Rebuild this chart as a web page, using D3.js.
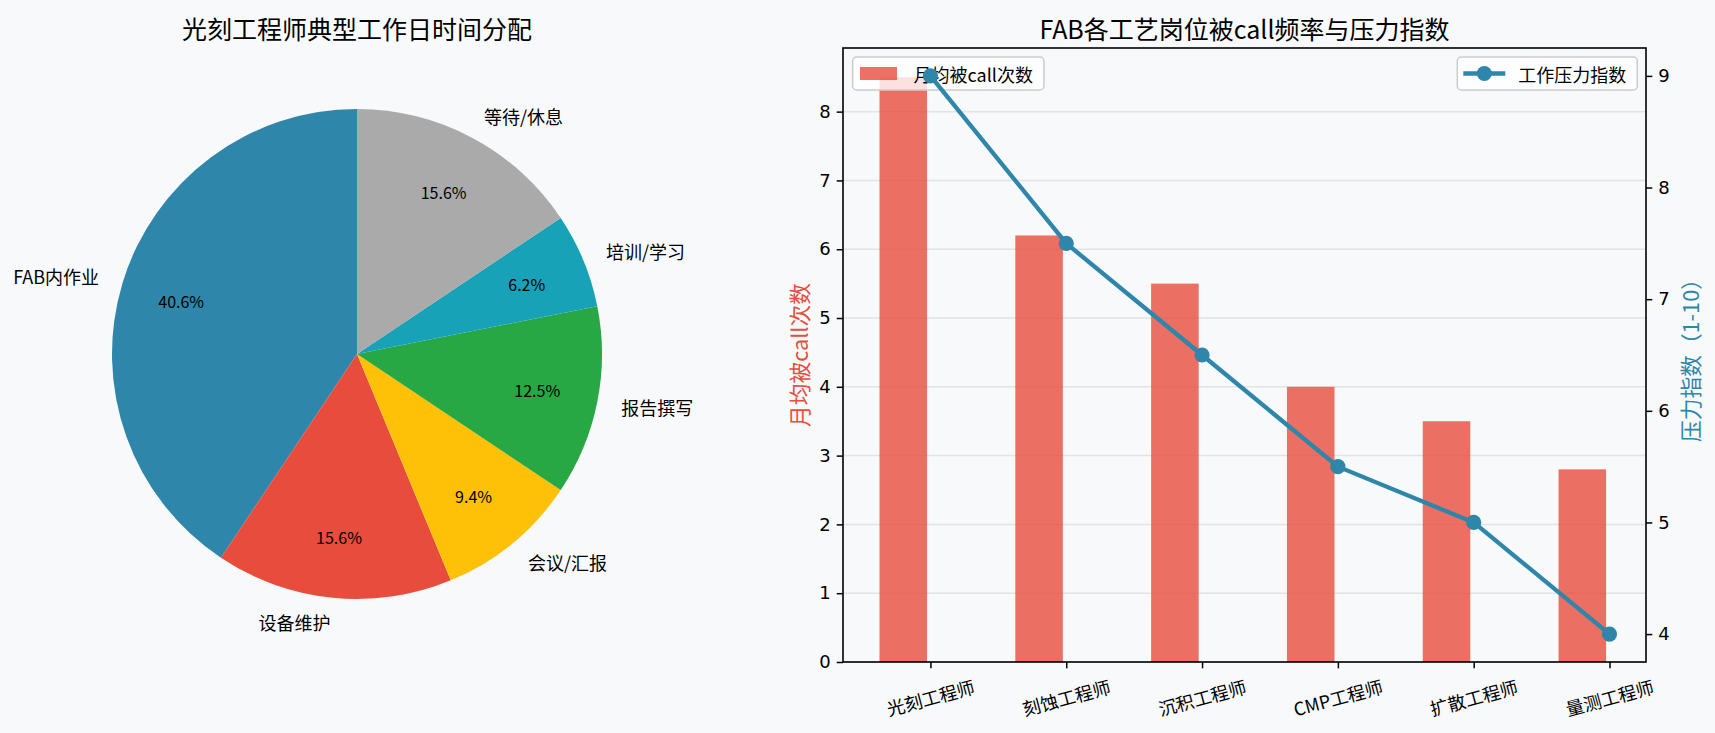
<!DOCTYPE html>
<html>
<head>
<meta charset="utf-8">
<script src="https://cdn.jsdelivr.net/npm/d3@7"></script>
<style>
  body { margin: 0; background: #F8F9FA; }
  svg { display: block; }
  text { font-family: "Noto Sans CJK SC", "DejaVu Sans", sans-serif; fill: #000; }
</style>
</head>
<body>
<svg id="chart" width="1715" height="733"></svg>
<script>
// pie: time split of a typical day
const tasks = ["FAB内作业", "设备维护", "会议/汇报", "报告撰写", "培训/学习", "等待/休息"];
const hours = [6.5, 2.5, 1.5, 2.0, 1.0, 2.5];
const pieColors = ["#2E86AB", "#E74C3C", "#FFC107", "#28A745", "#17A2B8", "#AAAAAA"];

// bars + line: call frequency and stress by role
const roles = ["光刻工程师", "刻蚀工程师", "沉积工程师", "CMP工程师", "扩散工程师", "量测工程师"];
const callsPerMonth = [8.5, 6.2, 5.5, 4.0, 3.5, 2.8];
const stressIndex = [9, 7.5, 6.5, 5.5, 5.0, 4.0];
const leftTicks = [0, 1, 2, 3, 4, 5, 6, 7, 8];
const rightTicks = [4, 5, 6, 7, 8, 9];

const svg = d3.select("#chart");

// python-style rounding (half to even) so 6.25 -> 6.2
function pct1(v) {
  const s = v * 10, f = Math.floor(s);
  let n = Math.abs(s - f - 0.5) < 1e-9 ? (f % 2 === 0 ? f : f + 1) : Math.round(s);
  return (n / 10).toFixed(1) + "%";
}

/* ---------- pie ---------- */
const cx = 357, cy = 354, R = 245;
svg.append("text").attr("x", cx).attr("y", 28).attr("text-anchor", "middle")
  .attr("dominant-baseline", "central").style("font-size", "25px").text("光刻工程师典型工作日时间分配");

const total = d3.sum(hours);
const pie = d3.pie().sort(null).startAngle(0).endAngle(-2 * Math.PI);
const arcs = pie(hours);
const arc = d3.arc().innerRadius(0).outerRadius(R);
const gp = svg.append("g").attr("transform", `translate(${cx},${cy})`);
gp.selectAll("path").data(arcs).enter().append("path")
  .attr("d", arc).attr("fill", (d, i) => pieColors[i]);

arcs.forEach((d, i) => {
  const a = (d.startAngle + d.endAngle) / 2;
  const lx = Math.sin(a) * R * 1.1, ly = -Math.cos(a) * R * 1.1;
  gp.append("text").attr("x", lx).attr("y", ly)
    .attr("text-anchor", lx < 0 ? "end" : "start").attr("dominant-baseline", "central")
    .style("font-size", "18px").text(tasks[i]);
  gp.append("text").attr("x", Math.sin(a) * R * 0.75).attr("y", -Math.cos(a) * R * 0.75)
    .attr("text-anchor", "middle").attr("dominant-baseline", "central")
    .style("font-size", "16px").text(pct1(hours[i] / total * 100));
});

/* ---------- bars + line ---------- */
const L = 843, Rt = 1646, T = 48, B = 662;
const barW = 0.35, barShift = 0.2;
const x = d3.scaleLinear().domain([-0.64375, 5.26875]).range([L, Rt]);
const yL = d3.scaleLinear().domain([0, d3.max(callsPerMonth) * 1.05]).range([B, T]);
const yR = d3.scaleLinear().domain([3.75, 9.25]).range([B, T]);
const idx = roles.map((r, i) => i);

svg.append("text").attr("x", (L + Rt) / 2).attr("y", 28).attr("text-anchor", "middle")
  .attr("dominant-baseline", "central").style("font-size", "25px").text("FAB各工艺岗位被call频率与压力指数");

// grid
svg.append("g").selectAll("line").data(leftTicks).enter().append("line")
  .attr("x1", L).attr("x2", Rt).attr("y1", d => yL(d)).attr("y2", d => yL(d))
  .attr("stroke", "#b0b0b0").attr("stroke-opacity", 0.3).attr("stroke-width", 1.5);

// bars
svg.append("g").selectAll("rect").data(callsPerMonth).enter().append("rect")
  .attr("x", (d, i) => x(i - barShift - barW / 2))
  .attr("width", x(barW) - x(0))
  .attr("y", d => yL(d)).attr("height", d => B - yL(d))
  .attr("fill", "#E74C3C").attr("fill-opacity", 0.8);

// left axis
const axL = svg.append("g").attr("transform", `translate(${L},0)`)
  .call(d3.axisLeft(yL).tickValues(leftTicks).tickFormat(d3.format("d")).tickSize(6.3).tickPadding(6));
axL.select(".domain").remove();
axL.selectAll("line").attr("stroke", "#000").attr("stroke-width", 1.5);
axL.selectAll("text").style("font-size", "18px").style("font-family", "DejaVu Sans");

// x axis
const axX = svg.append("g").attr("transform", `translate(0,${B})`)
  .call(d3.axisBottom(x).tickValues(idx).tickSize(6.3).tickFormat(""));
axX.select(".domain").remove();
axX.selectAll("line").attr("stroke", "#000").attr("stroke-width", 1.5);
svg.append("g").selectAll("text").data(roles).enter().append("text")
  .attr("transform", (d, i) => `translate(${x(i)},697) rotate(-15)`)
  .attr("text-anchor", "middle").attr("dominant-baseline", "central")
  .style("font-size", "18px").text(d => d);

svg.append("text").attr("transform", `translate(798,${(T + B) / 2}) rotate(-90)`)
  .attr("text-anchor", "middle").attr("dominant-baseline", "central")
  .style("font-size", "21.7px").style("fill", "#E74C3C").text("月均被call次数");

// left legend
const lg1 = svg.append("g");
const lbox1 = lg1.append("rect").attr("x", 852.6).attr("y", 57).attr("height", 33)
  .attr("rx", 4).attr("fill", "#fff").attr("fill-opacity", 0.8).attr("stroke", "#cccccc").attr("stroke-width", 1.5);
lg1.append("rect").attr("x", 860).attr("y", 67).attr("width", 37).attr("height", 13)
  .attr("fill", "#E74C3C").attr("fill-opacity", 0.8);
const t1 = lg1.append("text").attr("x", 913.6).attr("y", 73.5).attr("dominant-baseline", "central")
  .style("font-size", "18px").text("月均被call次数");
lbox1.attr("width", 913.6 + t1.node().getComputedTextLength() + 11 - 852.6);

// line on right axis
const line = d3.line().x((d, i) => x(i)).y(d => yR(d));
svg.append("path").datum(stressIndex).attr("d", line)
  .attr("fill", "none").attr("stroke", "#2E86AB").attr("stroke-width", 4.3).attr("stroke-linejoin", "round");
svg.append("g").selectAll("circle").data(stressIndex).enter().append("circle")
  .attr("cx", (d, i) => x(i)).attr("cy", d => yR(d)).attr("r", 7.6).attr("fill", "#2E86AB");

// right axis
const axR = svg.append("g").attr("transform", `translate(${Rt},0)`)
  .call(d3.axisRight(yR).tickValues(rightTicks).tickFormat(d3.format("d")).tickSize(6.3).tickPadding(6));
axR.select(".domain").remove();
axR.selectAll("line").attr("stroke", "#000").attr("stroke-width", 1.5);
axR.selectAll("text").style("font-size", "18px").style("font-family", "DejaVu Sans");

svg.append("text").attr("transform", `translate(1689,${(T + B) / 2}) rotate(-90)`)
  .attr("text-anchor", "middle").attr("dominant-baseline", "central")
  .style("font-size", "21.7px").style("fill", "#2E86AB").text("压力指数（1-10）");

// right legend
const lg2 = svg.append("g");
const lbox2 = lg2.append("rect").attr("y", 57).attr("height", 33)
  .attr("rx", 4).attr("fill", "#fff").attr("fill-opacity", 0.8).attr("stroke", "#cccccc").attr("stroke-width", 1.5);
const t2 = lg2.append("text").attr("y", 73.5).attr("dominant-baseline", "central")
  .style("font-size", "18px").text("工作压力指数");
const w2 = t2.node().getComputedTextLength();
const rEdge = 1637.3, bx2 = rEdge - (61 + w2 + 11);
lbox2.attr("x", bx2).attr("width", rEdge - bx2);
t2.attr("x", bx2 + 61);
lg2.append("line").attr("x1", bx2 + 6).attr("x2", bx2 + 48).attr("y1", 73.5).attr("y2", 73.5)
  .attr("stroke", "#2E86AB").attr("stroke-width", 4.3);
lg2.append("circle").attr("cx", bx2 + 27).attr("cy", 73.5).attr("r", 7.6).attr("fill", "#2E86AB");

// spines
svg.append("rect").attr("x", L).attr("y", T).attr("width", Rt - L).attr("height", B - T)
  .attr("fill", "none").attr("stroke", "#000").attr("stroke-width", 1.6);
</script>
</body>
</html>
